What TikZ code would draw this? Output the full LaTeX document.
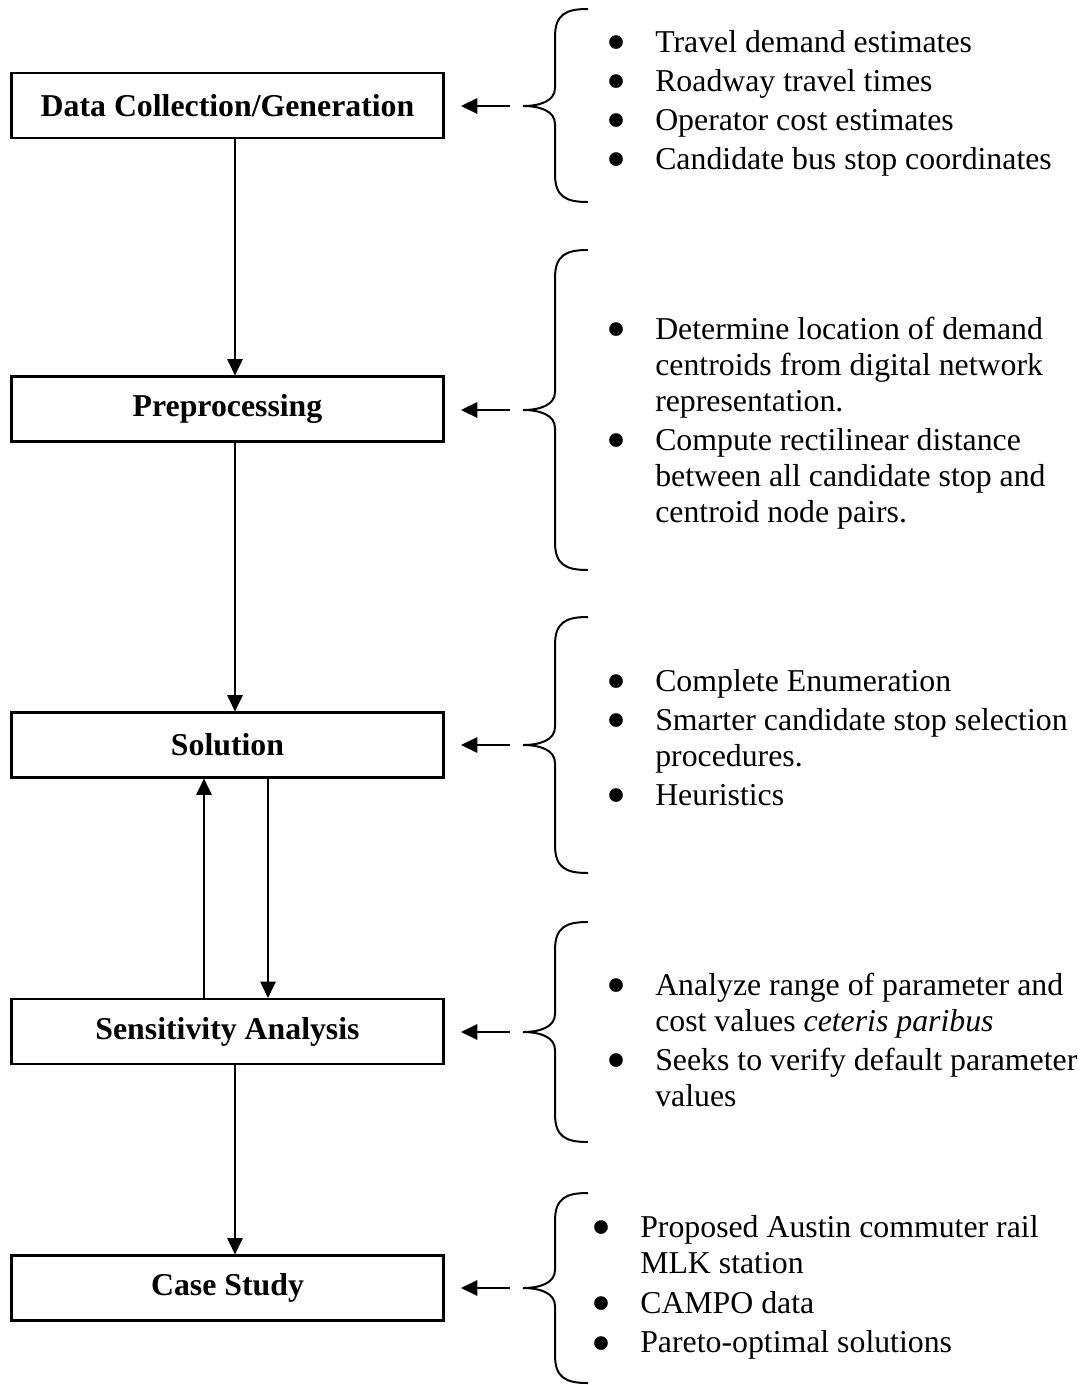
\documentclass[tikz,border=0pt]{standalone}
\usepackage{fontspec}
\usepackage{graphicx}
\setmainfont{Liberation Serif}
\usetikzlibrary{arrows.meta}
\newcommand\tfont{\fontsize{12pt}{13.59pt}\selectfont}
\newcommand\bigbul{\smash{\raisebox{-3.7pt}{\scalebox{1.8}{\textbullet}}}}
\newcommand\mybrace[3]{%
  \draw[brc] (588,#1) .. controls (566,#1) and (555,#1+5) .. (555,#1+28)
    -- (555,#2-18) .. controls (555,#2-5) and (540,#2) .. (523,#2)
    .. controls (540,#2) and (555,#2+5) .. (555,#2+18)
    -- (555,#3-28) .. controls (555,#3-5) and (566,#3) .. (588,#3);}
\begin{document}
\begin{tikzpicture}[x=0.3774pt,y=-0.3774pt,
  box/.style={draw, line width=0.8pt, minimum width=163pt, minimum height=24.5pt,
    inner sep=0pt, font=\tfont\bfseries},
  arr/.style={line width=0.75pt, -{Triangle[length=6.2pt,width=5.8pt]}},
  brc/.style={line width=0.75pt},
  lst/.style={anchor=base west, inner sep=0pt}]
\useasboundingbox (0,0) rectangle (1085,1385);

% boxes
\node[box] (b1) at (227.5,105.5) {Data Collection/Generation};
\node[box] (b2) at (227.5,409) {Preprocessing};
\node[box] (b3) at (227.5,745) {Solution};
\node[box] (b4) at (227.5,1031.5) {Sensitivity Analysis};
\node[box] (b5) at (227.5,1288) {Case Study};

% vertical connectors
\coordinate (xm) at (235,0);
\coordinate (xu) at (204,0);
\coordinate (xd) at (268,0);
\draw[arr] (b1.south -| xm) -- (b2.north -| xm);
\draw[arr] (b2.south -| xm) -- (b3.north -| xm);
\draw[arr] (b4.north -| xu) -- (b3.south -| xu);
\draw[arr] (b3.south -| xd) -- (b4.north -| xd);
\draw[arr] (b4.south -| xm) -- (b5.north -| xm);

% braces
\mybrace{9}{106}{202}
\mybrace{250}{410}{570}
\mybrace{617}{745}{873}
\mybrace{922}{1032}{1142}
\mybrace{1193}{1288}{1383}

% arrows from braces
\coordinate (t1) at (510,106);
\coordinate (t2) at (510,410);
\coordinate (t3) at (510,745);
\coordinate (t4) at (510,1032);
\coordinate (t5) at (510,1288);
\draw[arr, shorten >=6.2pt] (t1) -- (t1 -| b1.east);
\draw[arr, shorten >=6.2pt] (t2) -- (t2 -| b2.east);
\draw[arr, shorten >=6.2pt] (t3) -- (t3 -| b3.east);
\draw[arr, shorten >=6.2pt] (t4) -- (t4 -| b4.east);
\draw[arr, shorten >=6.2pt] (t5) -- (t5 -| b5.east);

% lists
\node[lst] (l1) at (606,52) {\tfont\begin{tabular}[t]{@{}p{18.4pt}@{}l@{}}
\bigbul & Travel demand estimates\\[1.13pt]
\bigbul & Roadway travel times\\[1.13pt]
\bigbul & Operator cost estimates\\[1.13pt]
\bigbul & Candidate bus stop coordinates
\end{tabular}};

\node[lst] (l2) at (606,339) {\tfont\begin{tabular}[t]{@{}p{18.4pt}@{}l@{}}
\bigbul & Determine location of demand\\
 & centroids from digital network\\
 & representation.\\[1.13pt]
\bigbul & Compute rectilinear distance\\
 & between all candidate stop and\\
 & centroid node pairs.
\end{tabular}};

\node[lst] (l3) at (606,691) {\tfont\begin{tabular}[t]{@{}p{18.4pt}@{}l@{}}
\bigbul & Complete Enumeration\\[1.13pt]
\bigbul & Smarter candidate stop selection\\
 & procedures.\\[1.13pt]
\bigbul & Heuristics
\end{tabular}};

\node[lst] (l4) at (606,995) {\tfont\begin{tabular}[t]{@{}p{18.4pt}@{}l@{}}
\bigbul & Analyze range of parameter and\\
 & cost values \textit{ceteris paribus}\\[1.13pt]
\bigbul & Seeks to verify default parameter\\
 & values
\end{tabular}};

\node[lst] (l5) at (591,1237) {\tfont\begin{tabular}[t]{@{}p{18.4pt}@{}l@{}}
\bigbul & Proposed Austin commuter rail\\
 & MLK station\\[1.5pt]
\bigbul & CAMPO data\\[1.5pt]
\bigbul & Pareto-optimal solutions
\end{tabular}};
\end{tikzpicture}
\end{document}
